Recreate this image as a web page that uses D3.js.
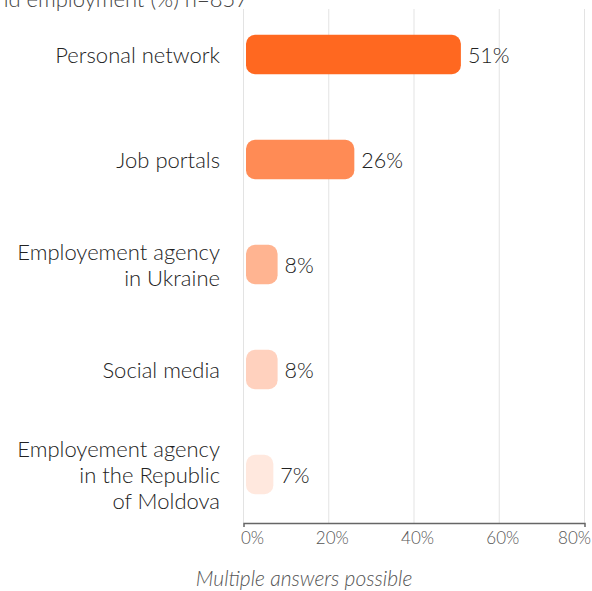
<!DOCTYPE html>
<html>
<head>
<meta charset="utf-8">
<script src="https://cdn.jsdelivr.net/npm/d3@7"></script>
<style>
  html, body { margin: 0; padding: 0; background: #fff; }
  svg { display: block; }
  text { font-family: Lato, "Open Sans", sans-serif; font-weight: 300; }
</style>
</head>
<body>
<svg id="chart" width="592" height="591"></svg>
<script>
// Channels used to find employment, share of respondents
const categories = [
  ["Personal network"],
  ["Job portals"],
  ["Employement agency", "in Ukraine"],
  ["Social media"],
  ["Employement agency", "in the Republic", "of Moldova"]
];
const values = [51, 26, 8, 8, 7];
const barColors = ["#ff6820", "#ff8b55", "#ffb491", "#ffd1be", "#ffe8de"];
const xTicks = [0, 20, 40, 60, 80];
const titleText = "Channels used to find employment (%) n=857";
const noteText = "Multiple answers possible";

const svg = d3.select("#chart");
const plotLeft = 243.5, plotRight = 584.5, plotTop = 2, plotBottom = 527, axisY = 523;

const keys = categories.map(c => c.join(" "));
const x = d3.scaleLinear().domain([0, 80]).range([plotLeft, plotRight]);
const y = d3.scaleBand().domain(keys).range([plotTop, plotBottom])
  .paddingInner(0.624).paddingOuter(0.312);

// title (runs off the top edge)
svg.append("text")
  .attr("x", 248).attr("y", 7)
  .attr("text-anchor", "end")
  .attr("font-size", 22)
  .attr("fill", "#444")
  .text(titleText);

// vertical gridlines
svg.append("g").selectAll("line").data(xTicks).join("line")
  .attr("x1", d => x(d)).attr("x2", d => x(d))
  .attr("y1", 9).attr("y2", axisY)
  .attr("stroke", "#e3e3e3").attr("stroke-width", 1);

// bars
svg.append("g").selectAll("rect").data(values).join("rect")
  .attr("x", x(0) + 2.5)
  .attr("y", (d, i) => y(keys[i]))
  .attr("width", d => x(d) - x(0) - 2.5)
  .attr("height", y.bandwidth())
  .attr("rx", 9).attr("ry", 9)
  .attr("fill", (d, i) => barColors[i]);

// value labels
svg.append("g").selectAll("text").data(values).join("text")
  .attr("x", d => x(d) + 7)
  .attr("y", (d, i) => y(keys[i]) + y.bandwidth() / 2 + 8.5)
  .attr("font-size", 21.5)
  .attr("fill", "#222")
  .text(d => d + "%");

// category labels (multi-line, right aligned)
const lineH = 26;
const catG = svg.append("g");
categories.forEach((lines, i) => {
  const cy = y(keys[i]) + y.bandwidth() / 2;
  const t = catG.append("text")
    .attr("text-anchor", "end")
    .attr("font-size", 22)
    .attr("fill", "#222");
  lines.forEach((ln, j) => {
    t.append("tspan")
      .attr("x", 220)
      .attr("y", cy + 8.5 + (j - (lines.length - 1) / 2) * lineH)
      .text(ln);
  });
});

// x axis
const axis = d3.axisBottom(x)
  .tickValues(xTicks)
  .tickFormat(d => d + "%")
  .tickSize(0)
  .tickSizeOuter(4)
  .tickPadding(9);
const ax = svg.append("g").attr("transform", `translate(0,${axisY})`).call(axis);
ax.select(".domain").attr("stroke", "#666").attr("stroke-width", 1.5);
ax.selectAll(".tick text")
  .attr("font-size", 17)
  .attr("fill", "#555")
  .style("font-family", "Lato, 'Open Sans', sans-serif")
  .style("font-weight", 300)
  .attr("text-anchor", d => d === 0 ? "start" : d === 80 ? "end" : "middle")
  .attr("dx", d => d === 0 ? -3 : d === 80 ? 6 : 3);

// footnote
svg.append("text")
  .attr("x", 304).attr("y", 586)
  .attr("text-anchor", "middle")
  .attr("font-size", 21)
  .attr("font-style", "italic")
  .attr("fill", "#555")
  .text(noteText);
</script>
</body>
</html>
